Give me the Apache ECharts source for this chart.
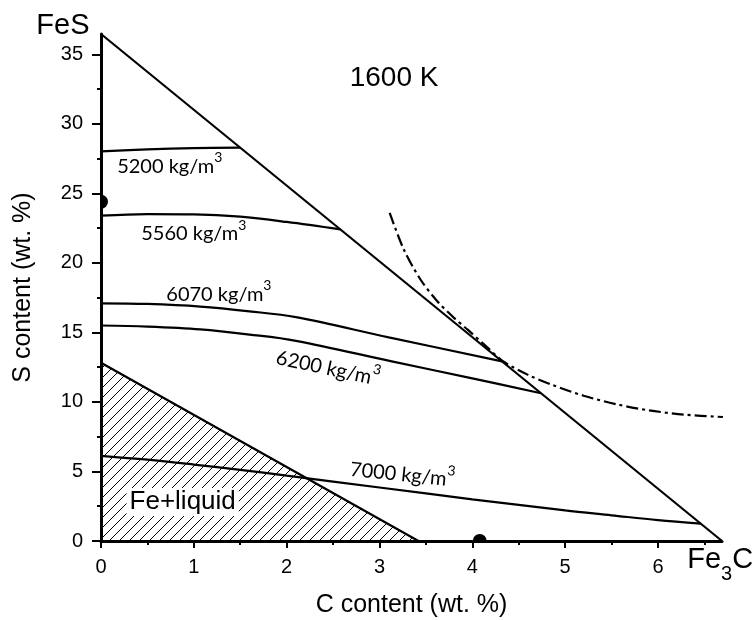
<!DOCTYPE html>
<html>
<head>
<meta charset="utf-8">
<script src="https://cdn.jsdelivr.net/npm/echarts@6/dist/echarts.min.js"></script>
<style>
  html, body { margin: 0; padding: 0; background: #fff; }
  #chart { width: 755px; height: 620px; }
</style>
</head>
<body>
<div id="chart"></div>
<script>
// Fe–FeS–Fe3C section at 1600 K with liquid density isolines

// Axis extents: C content of Fe3C and S content of FeS (wt. %)
const xMax = 6.69;
const yMax = 36.47;

// Tick values
const xTickValues = [0, 1, 2, 3, 4, 5, 6];
const xMinorTicks = [0.5, 1.5, 2.5, 3.5, 4.5, 5.5, 6.5];
const yTickValues = [0, 5, 10, 15, 20, 25, 30, 35];
const yMinorTicks = [2.5, 7.5, 12.5, 17.5, 22.5, 27.5, 32.5];

// FeS – Fe3C join
const feSFe3CJoin = [[0, 36.47], [6.69, 0]];

// Density isolines [C, S]
const densities = [5200, 5560, 6070, 6200, 7000];
const iso5200 = [[0, 28.02], [0.5, 28.17], [1.0, 28.26], [1.5, 28.29]];
const iso5560 = [[0, 23.40], [0.5, 23.52], [1.0, 23.50], [1.5, 23.33], [2.0, 22.95], [2.58, 22.41]];
const iso6070 = [[0, 17.10], [0.5, 17.05], [1.07, 16.86], [1.6, 16.52], [2.1, 16.10], [3.1, 14.65], [4.32, 12.92]];
const iso6200 = [[0, 15.50], [0.5, 15.42], [1.07, 15.22], [1.6, 14.85], [2.1, 14.40], [3.12, 12.94], [4.0, 11.70], [4.74, 10.63]];
const iso7000 = [[0, 6.13], [0.5, 5.85], [1.0, 5.50], [1.5, 5.12], [2.0, 4.70], [3.0, 3.85], [4.0, 3.00], [5.0, 2.20], [5.5, 1.85], [6.0, 1.50], [6.46, 1.25]];
const isolines = [iso5200, iso5560, iso6070, iso6200, iso7000];

// Dash-dot boundary curve
const dashDotCurve = [[3.11, 23.6], [3.26, 21.0], [3.44, 18.83], [3.62, 17.27], [3.80, 16.07], [3.95, 15.2],
  [4.15, 14.0], [4.33, 12.94], [4.6, 11.95], [4.85, 11.26], [5.2, 10.45], [5.57, 9.81], [5.9, 9.4], [6.28, 9.09], [6.7, 8.92]];

// Fe + liquid field upper edge
const feLiquidEdge = [[0, 12.82], [3.42, 0]];

// Marked compositions
const markedPoints = [[0, 24.4], [4.08, 0]];

// Annotation texts
const temperatureText = '1600 K';
const fieldText = 'Fe+liquid';
const xAxisName = 'C content (wt. %)';
const yAxisName = 'S content (wt. %)';

// Annotation anchors (data coords) and rotations (deg)
const isoLabelAt = [[0.74, 27.13], [1.0, 22.3], [1.27, 17.97], [2.45, 12.63], [3.25, 4.98]];
const isoLabelRotate = [0, 0, 0, -12, -6];
const temperatureAt = [3.157, 33.26];
const fieldAt = [0.88, 2.81];
const fesAt = [-0.41, 37.05];
const fe3cAt = [6.67, -1.71];

const black = '#000';
const arial = '"Liberation Sans", Arial, Helvetica, sans-serif';
const humanist = 'Lato, "Open Sans", sans-serif';

function hatchPattern() {
  const s = 10;
  const c = document.createElement('canvas');
  c.width = s; c.height = s;
  const g = c.getContext('2d');
  g.strokeStyle = '#000';
  g.lineWidth = 1;
  g.beginPath();
  g.moveTo(0, s); g.lineTo(s, 0);
  g.moveTo(-1, 1); g.lineTo(1, -1);
  g.moveTo(s - 1, s + 1); g.lineTo(s + 1, s - 1);
  g.stroke();
  return c;
}

function curve(name, data, extra) {
  return Object.assign({
    type: 'line', name, data,
    symbol: 'none', showSymbol: false, smooth: 0.35, silent: true,
    lineStyle: { color: black, width: 2.2 },
    z: 3
  }, extra || {});
}

const densityRich = {
  a: { fontFamily: humanist, fontSize: 20, color: black, lineHeight: 26, verticalAlign: 'bottom' },
  s: { fontFamily: humanist, fontSize: 14, color: black, lineHeight: 14, verticalAlign: 'top' }
};

const annotations = [];
densities.forEach((d, i) => {
  annotations.push({
    at: isoLabelAt[i], rotate: isoLabelRotate[i],
    style: { text: '{a|' + d + ' kg/m}{s|3}', rich: densityRich }
  });
});
annotations.push({
  at: temperatureAt, rotate: 0,
  style: { text: temperatureText, fontFamily: arial, fontSize: 28, fill: black }
});
annotations.push({
  at: fieldAt, rotate: 0,
  style: { text: fieldText, fontFamily: arial, fontSize: 26, fill: black, backgroundColor: '#fff', padding: [1, 3, 1, 3] }
});
annotations.push({
  at: fesAt, rotate: 0,
  style: { text: 'FeS', fontFamily: arial, fontSize: 29, fill: black }
});
annotations.push({
  at: fe3cAt, rotate: 0,
  style: {
    text: '{m|Fe}{b|3}{m|C}',
    rich: {
      m: { fontFamily: arial, fontSize: 29, color: black, lineHeight: 30, verticalAlign: 'top' },
      b: { fontFamily: arial, fontSize: 20, color: black, lineHeight: 39, verticalAlign: 'bottom' }
    }
  }
});

const series = [
  curve('Fe+liquid', feLiquidEdge, {
    smooth: false, z: 2,
    areaStyle: { color: { image: hatchPattern(), repeat: 'repeat' }, opacity: 1 }
  }),
  curve('FeS-Fe3C', feSFe3CJoin, { smooth: false })
];
isolines.forEach((line, i) => series.push(curve(densities[i] + ' kg/m3', line)));
series.push(curve('boundary', dashDotCurve, {
  smooth: 0.3,
  lineStyle: { color: black, width: 2.2, type: [12, 4, 3, 4] }
}));
series.push({
  type: 'custom', name: 'points', data: markedPoints, clip: true, silent: true, z: 4,
  renderItem(params, api) {
    const p = api.coord([api.value(0), api.value(1)]);
    return { type: 'circle', shape: { cx: p[0], cy: p[1], r: 7 }, style: { fill: black } };
  }
});
series.push({
  type: 'custom', name: 'annotations', data: annotations.map(a => a.at), clip: false, silent: true, z: 6,
  renderItem(params, api) {
    const a = annotations[params.dataIndex];
    const p = api.coord(a.at);
    return {
      type: 'text', x: p[0], y: p[1], rotation: a.rotate * Math.PI / 180,
      style: Object.assign({ align: 'center', verticalAlign: 'middle', fill: black }, a.style)
    };
  }
});

const tickLine = { color: black, width: 2 };

const option = {
  backgroundColor: '#fff',
  animation: false,
  grid: { left: 101, right: 33, top: 34, bottom: 79, containLabel: false, outerBoundsMode: 'none' },
  xAxis: [
    {
      type: 'value', min: 0, max: xMax, position: 'bottom',
      name: xAxisName, nameLocation: 'middle', nameGap: 52,
      nameTextStyle: { fontFamily: arial, fontSize: 25, color: black },
      axisLine: { show: true, onZero: false, lineStyle: { color: black, width: 3 } },
      axisTick: { show: true, length: 7, customValues: xTickValues, lineStyle: tickLine },
      axisLabel: { customValues: xTickValues, margin: 16, fontFamily: arial, fontSize: 20, color: black },
      splitLine: { show: false }
    },
    {
      type: 'value', min: 0, max: xMax, position: 'bottom',
      axisLine: { show: false },
      axisTick: { show: true, length: 4, customValues: xMinorTicks, lineStyle: tickLine },
      axisLabel: { show: false },
      splitLine: { show: false }
    }
  ],
  yAxis: [
    {
      type: 'value', min: 0, max: yMax, position: 'left',
      name: yAxisName, nameLocation: 'middle', nameGap: 65,
      nameTextStyle: { fontFamily: arial, fontSize: 25, color: black },
      axisLine: { show: true, onZero: false, lineStyle: { color: black, width: 3 } },
      axisTick: { show: true, length: 9, customValues: yTickValues, lineStyle: tickLine },
      axisLabel: { customValues: yTickValues, margin: 18, fontFamily: arial, fontSize: 20, color: black },
      splitLine: { show: false }
    },
    {
      type: 'value', min: 0, max: yMax, position: 'left',
      axisLine: { show: false },
      axisTick: { show: true, length: 4, customValues: yMinorTicks, lineStyle: tickLine },
      axisLabel: { show: false },
      splitLine: { show: false }
    }
  ],
  series
};

const chart = echarts.init(document.getElementById('chart'), null, { renderer: 'canvas' });
chart.setOption(option);
</script>
</body>
</html>
